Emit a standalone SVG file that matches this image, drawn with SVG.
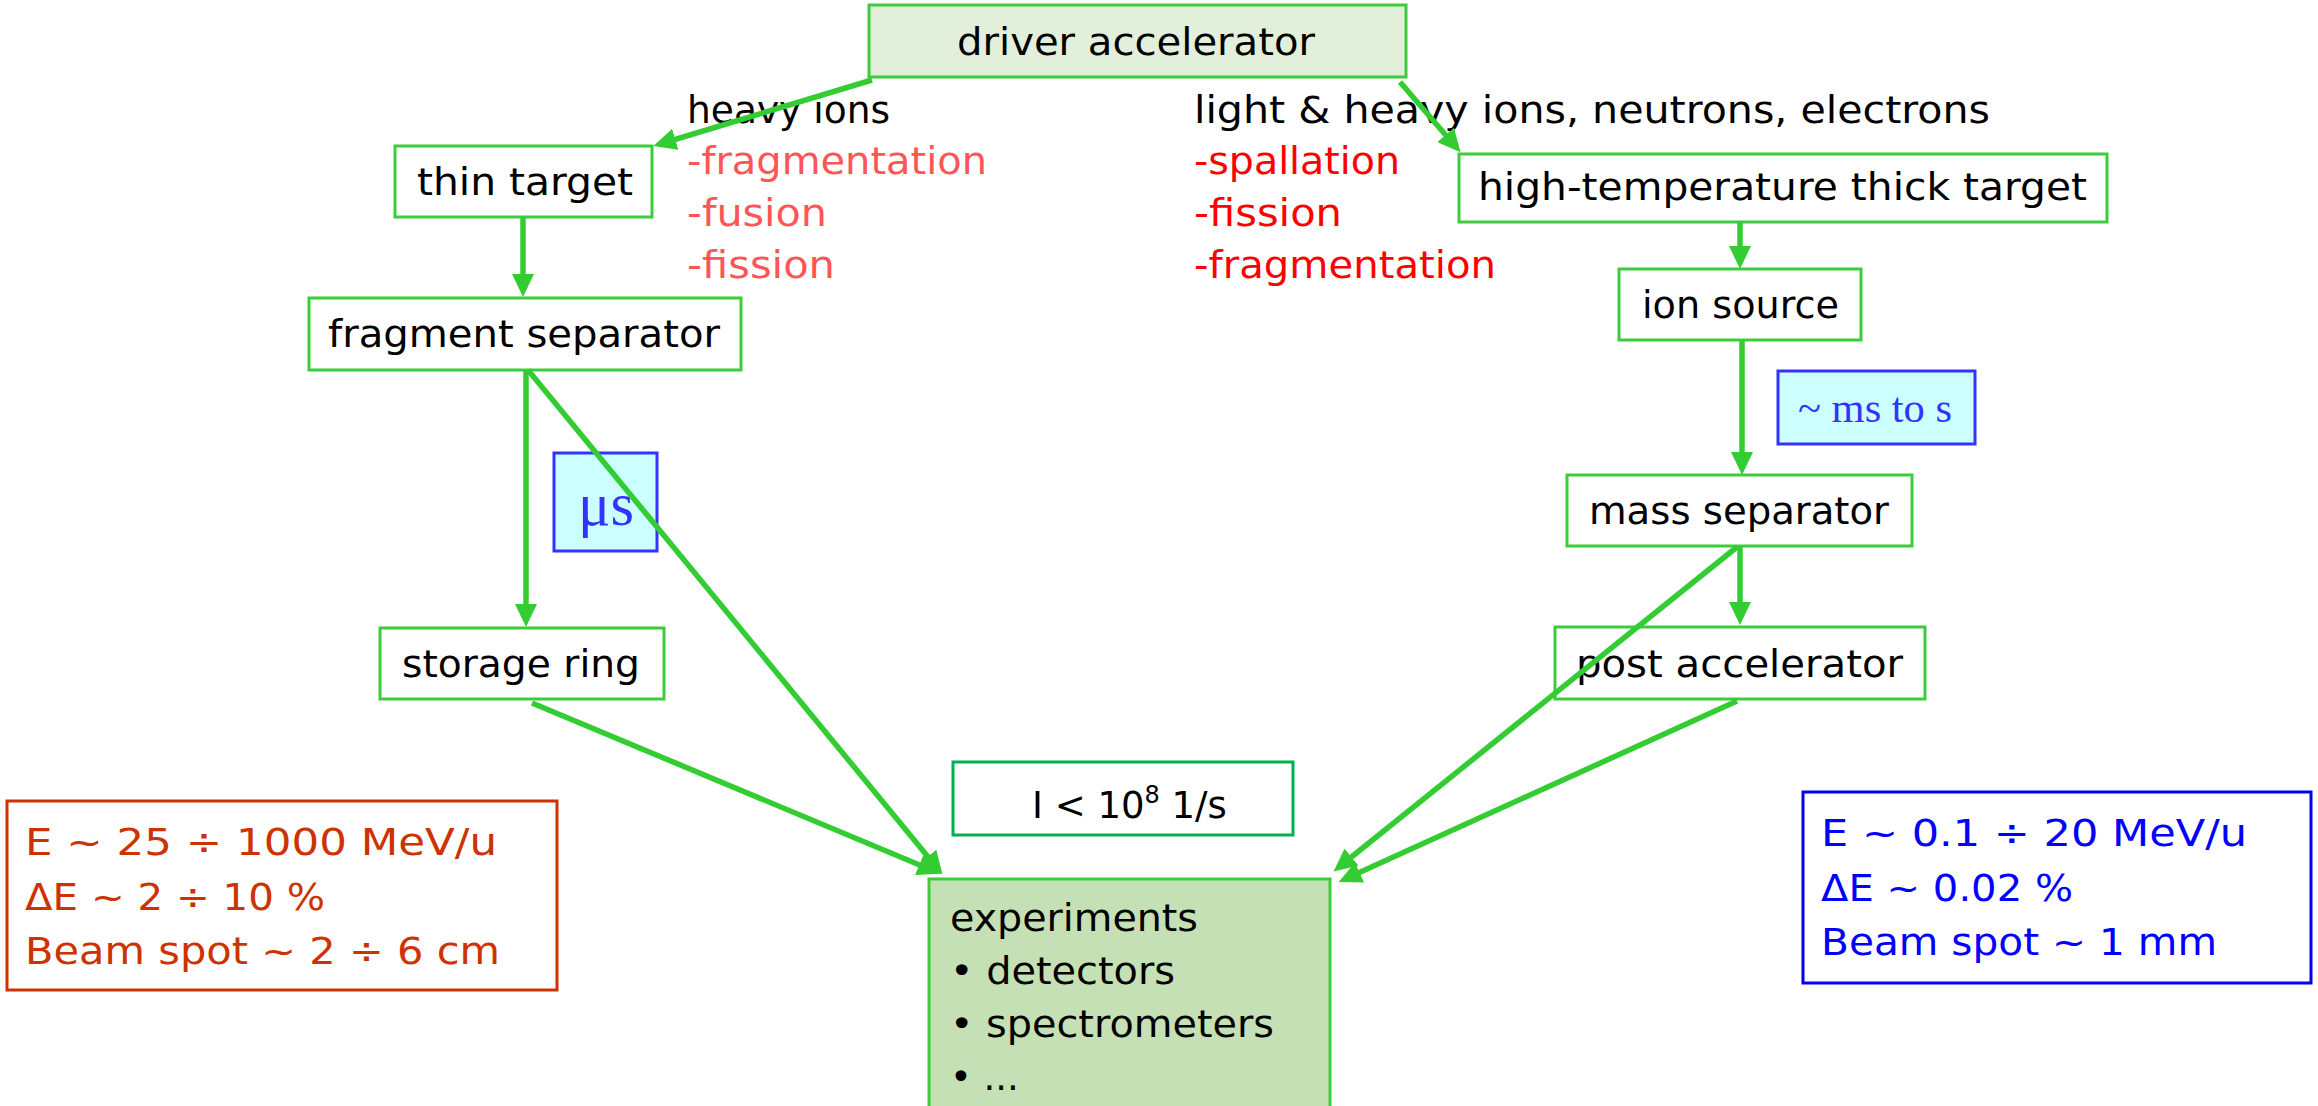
<svg xmlns="http://www.w3.org/2000/svg" width="2318" height="1106" viewBox="0 0 2318 1106">
<style>
.box{fill:#ffffff;stroke:#3ccc3c;stroke-width:3}
.t{font-family:"DejaVu Sans","Liberation Sans",sans-serif;font-size:37px;fill:#000}
.red1{font-family:"DejaVu Sans","Liberation Sans",sans-serif;font-size:37px;fill:#ff5555}
.red2{font-family:"DejaVu Sans","Liberation Sans",sans-serif;font-size:37px;fill:#ff0000}
.conn{stroke:#33cc33;stroke-width:5.5;fill:none}
.tbox{fill:#ccffff;stroke:#3333ff;stroke-width:3}
.serif{font-family:"Liberation Serif","DejaVu Serif",serif;fill:#3333ff}
</style>
<defs>
<marker id="arr" markerUnits="userSpaceOnUse" markerWidth="24" markerHeight="22" refX="16" refY="11" orient="auto">
<path d="M0,0 L23,11 L0,22 z" fill="#33cc33"/>
</marker>
</defs>

<g id="driver">
<rect x="869" y="5" width="537" height="72" fill="#e2efda" stroke="#3ccc3c" stroke-width="3"/>
<text class="t" x="957" y="55" textLength="358" lengthAdjust="spacingAndGlyphs">driver accelerator</text>
</g>

<g id="heavy-label">
<text class="t" x="687" y="123" textLength="203" lengthAdjust="spacingAndGlyphs">heavy ions</text>
<text class="red1" x="687" y="174" textLength="300" lengthAdjust="spacingAndGlyphs">-fragmentation</text>
<text class="red1" x="687" y="226" textLength="140" lengthAdjust="spacingAndGlyphs">-fusion</text>
<text class="red1" x="687" y="278" textLength="148" lengthAdjust="spacingAndGlyphs">-fission</text>
</g>

<g id="light-label">
<text class="t" x="1194" y="123" textLength="796" lengthAdjust="spacingAndGlyphs">light &amp; heavy ions, neutrons, electrons</text>
<text class="red2" x="1194" y="174" textLength="206" lengthAdjust="spacingAndGlyphs">-spallation</text>
<text class="red2" x="1194" y="226" textLength="148" lengthAdjust="spacingAndGlyphs">-fission</text>
<text class="red2" x="1194" y="278" textLength="302" lengthAdjust="spacingAndGlyphs">-fragmentation</text>
</g>

<g id="thin-target">
<rect class="box" x="395" y="146" width="257" height="71"/>
<text class="t" x="417" y="195" textLength="216" lengthAdjust="spacingAndGlyphs">thin target</text>
</g>

<g id="fragment-separator">
<rect class="box" x="309" y="298" width="432" height="72"/>
<text class="t" x="328" y="347" textLength="392" lengthAdjust="spacingAndGlyphs">fragment separator</text>
</g>

<g id="storage-ring">
<rect class="box" x="380" y="628" width="284" height="71"/>
<text class="t" x="402" y="677" textLength="238" lengthAdjust="spacingAndGlyphs">storage ring</text>
</g>

<g id="thick-target">
<rect class="box" x="1459" y="154" width="648" height="68"/>
<text class="t" x="1478" y="200" textLength="609" lengthAdjust="spacingAndGlyphs">high-temperature thick target</text>
</g>

<g id="ion-source">
<rect class="box" x="1619" y="269" width="242" height="71"/>
<text class="t" x="1642" y="318" textLength="197" lengthAdjust="spacingAndGlyphs">ion source</text>
</g>

<g id="mass-separator">
<rect class="box" x="1567" y="475" width="345" height="71"/>
<text class="t" x="1589" y="524" textLength="300" lengthAdjust="spacingAndGlyphs">mass separator</text>
</g>

<g id="post-accelerator">
<rect class="box" x="1555" y="627" width="370" height="72"/>
<text class="t" x="1576" y="677" textLength="327" lengthAdjust="spacingAndGlyphs">post accelerator</text>
</g>

<g id="us-label">
<rect class="tbox" x="554" y="453" width="103" height="98"/>
<text class="serif" x="578" y="525" font-size="62" textLength="56" lengthAdjust="spacingAndGlyphs">μs</text>
</g>

<g id="ms-label">
<rect class="tbox" x="1778" y="371" width="197" height="73"/>
<text class="serif" x="1798" y="422" font-size="42" textLength="154" lengthAdjust="spacingAndGlyphs">~ ms to s</text>
</g>

<g id="intensity">
<rect x="953" y="762" width="340" height="73" fill="#fff" stroke="#00b050" stroke-width="3"/>
<text class="t" x="1032" y="818">I &lt; 10<tspan font-size="24" dy="-15">8</tspan><tspan dy="15"> 1/s</tspan></text>
</g>

<g id="experiments">
<rect x="929" y="879" width="401" height="240" fill="#c5e0b4" stroke="#3ccc3c" stroke-width="3"/>
<text class="t" x="950" y="931" textLength="248" lengthAdjust="spacingAndGlyphs">experiments</text>
<text class="t" x="950" y="984" textLength="225" lengthAdjust="spacingAndGlyphs">• detectors</text>
<text class="t" x="950" y="1037" textLength="324" lengthAdjust="spacingAndGlyphs">• spectrometers</text>
<text class="t" x="950" y="1090">• ...</text>
</g>

<g id="left-params">
<rect x="7" y="801" width="550" height="189" fill="#fff" stroke="#cc3300" stroke-width="3"/>
<text class="t" x="25" y="855" style="fill:#cc3300" textLength="472" lengthAdjust="spacingAndGlyphs">E ~ 25 ÷ 1000 MeV/u</text>
<text class="t" x="25" y="910" style="fill:#cc3300" textLength="300" lengthAdjust="spacingAndGlyphs">ΔE ~ 2 ÷ 10 %</text>
<text class="t" x="25" y="964" style="fill:#cc3300" textLength="475" lengthAdjust="spacingAndGlyphs">Beam spot ~ 2 ÷ 6 cm</text>
</g>

<g id="right-params">
<rect x="1803" y="792" width="508" height="191" fill="#fff" stroke="#0000ee" stroke-width="3"/>
<text class="t" x="1821" y="846" style="fill:#0000ff" textLength="426" lengthAdjust="spacingAndGlyphs">E ~ 0.1 ÷ 20 MeV/u</text>
<text class="t" x="1821" y="901" style="fill:#0000ff" textLength="252" lengthAdjust="spacingAndGlyphs">ΔE ~ 0.02 %</text>
<text class="t" x="1821" y="955" style="fill:#0000ff" textLength="396" lengthAdjust="spacingAndGlyphs">Beam spot ~ 1 mm</text>
</g>

<g id="connectors">
<line class="conn" x1="872" y1="80" x2="660" y2="144" marker-end="url(#arr)"/>
<line class="conn" x1="1400" y1="82" x2="1456" y2="147" marker-end="url(#arr)"/>
<line class="conn" x1="523" y1="218" x2="523" y2="290" marker-end="url(#arr)"/>
<line class="conn" x1="526" y1="370" x2="526" y2="620" marker-end="url(#arr)"/>
<line class="conn" x1="528" y1="370" x2="938" y2="869" marker-end="url(#arr)"/>
<line class="conn" x1="532" y1="703" x2="934" y2="871" marker-end="url(#arr)"/>
<line class="conn" x1="1740" y1="222" x2="1740" y2="262" marker-end="url(#arr)"/>
<line class="conn" x1="1742" y1="340" x2="1742" y2="468" marker-end="url(#arr)"/>
<line class="conn" x1="1740" y1="546" x2="1740" y2="618" marker-end="url(#arr)"/>
<line class="conn" x1="1737" y1="547" x2="1339" y2="867" marker-end="url(#arr)"/>
<line class="conn" x1="1737" y1="701" x2="1345" y2="879" marker-end="url(#arr)"/>
</g>
</svg>
